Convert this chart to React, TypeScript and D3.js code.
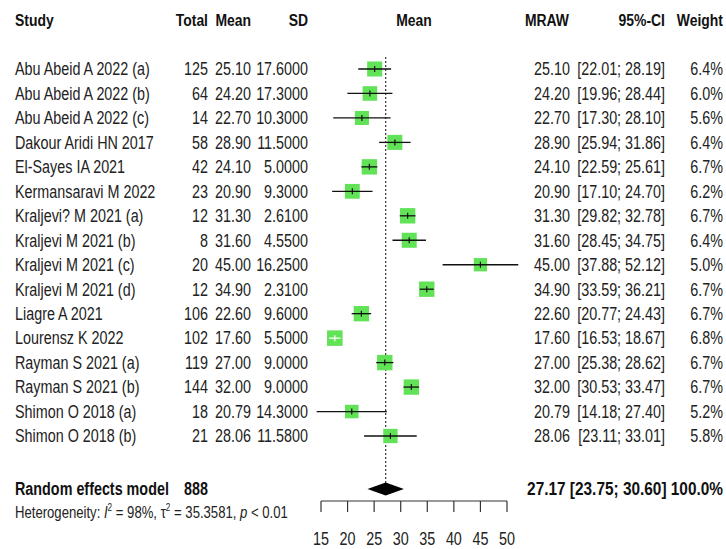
import React from "react";
import * as d3 from "d3";

const studies = [
  "Abu Abeid A 2022 (a)", "Abu Abeid A 2022 (b)", "Abu Abeid A 2022 (c)", "Dakour Aridi HN 2017",
  "El-Sayes IA 2021", "Kermansaravi M 2022", "Kraljevi? M 2021 (a)", "Kraljevi M 2021 (b)",
  "Kraljevi M 2021 (c)", "Kraljevi M 2021 (d)", "Liagre A 2021", "Lourensz K 2022",
  "Rayman S 2021 (a)", "Rayman S 2021 (b)", "Shimon O 2018 (a)", "Shimon O 2018 (b)",
];
const totals = ["125", "64", "14", "58", "42", "23", "12", "8", "20", "12", "106", "102", "119", "144", "18", "21"];
const meansTxt = ["25.10", "24.20", "22.70", "28.90", "24.10", "20.90", "31.30", "31.60", "45.00", "34.90", "22.60", "17.60", "27.00", "32.00", "20.79", "28.06"];
const sds = ["17.6000", "17.3000", "10.3000", "11.5000", "5.0000", "9.3000", "2.6100", "4.5500", "16.2500", "2.3100", "9.6000", "5.5000", "9.0000", "9.0000", "14.3000", "11.5800"];
const mraw = [25.10, 24.20, 22.70, 28.90, 24.10, 20.90, 31.30, 31.60, 45.00, 34.90, 22.60, 17.60, 27.00, 32.00, 20.79, 28.06];
const ciLow = [22.01, 19.96, 17.30, 25.94, 22.59, 17.10, 29.82, 28.45, 37.88, 33.59, 20.77, 16.53, 25.38, 30.53, 14.18, 23.11];
const ciHigh = [28.19, 28.44, 28.10, 31.86, 25.61, 24.70, 32.78, 34.75, 52.12, 36.21, 24.43, 18.67, 28.62, 33.47, 27.40, 33.01];
const weights = [6.4, 6.0, 5.6, 6.4, 6.7, 6.2, 6.7, 6.4, 5.0, 6.7, 6.7, 6.8, 6.7, 6.7, 5.2, 5.8];
const axisTicks = [15, 20, 25, 30, 35, 40, 45, 50];
const pooled = { label: "Random effects model", total: "888", est: 27.17, lo: 23.75, hi: 30.6, weight: "100.0%" };
const hetero = { i2: "98%", tau2: "35.3581", p: "0.01" };

const FONT = "'Liberation Sans', Arial, sans-serif";
const GREEN = "#62e256";
const SX = 0.82;

type TProps = { x: number; y: number; anchor?: string; size?: number; bold?: boolean; sx?: number; children: React.ReactNode; fill?: string };
function T({ x, y, anchor = "start", size = 17.5, bold = false, sx = SX, children, fill = "#222" }: TProps) {
  return (
    <text transform={`translate(${x},${y}) scale(${sx},1)`} textAnchor={anchor} fontSize={size}
      fontWeight={bold ? "bold" : "normal"} fill={fill}>
      {children}
    </text>
  );
}

export default function App() {
  const x = d3.scaleLinear().domain([15, 50]).range([321, 507]);
  const y = d3.scaleLinear().domain([0, 15]).range([69, 436]);
  const sq = d3.scaleSqrt().domain([0, 6.8]).range([0, 15.5]);
  const off = 6.3;
  const yPool = 489;
  const axisY = 501;
  const fmt = (v: number) => v.toFixed(2);
  const diamond = d3.line<[number, number]>()([
    [x(pooled.lo), yPool], [x(pooled.est), yPool - 6.5], [x(pooled.hi), yPool], [x(pooled.est), yPool + 6.5],
  ]) + "Z";

  return (
    <svg width={726} height={549} style={{ position: "absolute", left: 0, top: 0, background: "#fff" }}
      fontFamily={FONT}>
      {/* headers */}
      <T x={15} y={26} size={17} bold fill="#111">Study</T>
      <T x={208} y={26} size={17} anchor="end" bold fill="#111">Total</T>
      <T x={251} y={26} size={17} anchor="end" bold fill="#111">Mean</T>
      <T x={308} y={26} size={17} anchor="end" bold fill="#111">SD</T>
      <T x={x(32.5)} y={26} size={17} anchor="middle" bold fill="#111">Mean</T>
      <T x={569} y={26} size={17} anchor="end" bold fill="#111">MRAW</T>
      <T x={665} y={26} size={17} anchor="end" bold fill="#111">95%-CI</T>
      <T x={723} y={26} size={17} anchor="end" bold fill="#111">Weight</T>
      {/* reference line */}
      <line x1={x(pooled.est)} x2={x(pooled.est)} y1={57} y2={yPool - 6} stroke="#333" strokeWidth={1.2} strokeDasharray="2,2" />
      {/* rows */}
      {studies.map((s, i) => {
        const cy = y(i);
        const side = sq(weights[i]);
        const half = side / 2 - 1;
        const inside = x(ciLow[i]) >= x(mraw[i]) - half && x(ciHigh[i]) <= x(mraw[i]) + half;
        const lineCol = inside ? "#fff" : "#111";
        return (
          <g key={s}>
            <T x={15} y={cy + off}>{s}</T>
            <T x={208} y={cy + off} anchor="end">{totals[i]}</T>
            <T x={251} y={cy + off} anchor="end">{meansTxt[i]}</T>
            <T x={308} y={cy + off} anchor="end">{sds[i]}</T>
            <rect x={x(mraw[i]) - side / 2} y={cy - side / 2} width={side} height={side} fill={GREEN} />
            <line x1={x(ciLow[i])} x2={x(ciHigh[i])} y1={cy} y2={cy} stroke={lineCol} strokeWidth={1.3} />
            <line x1={x(mraw[i])} x2={x(mraw[i])} y1={cy - 3} y2={cy + 3} stroke={lineCol} strokeWidth={1.2} />
            <T x={570} y={cy + off} anchor="end">{fmt(mraw[i])}</T>
            <T x={665} y={cy + off} anchor="end">[{fmt(ciLow[i])}; {fmt(ciHigh[i])}]</T>
            <T x={723} y={cy + off} anchor="end">{weights[i].toFixed(1)}%</T>
          </g>
        );
      })}
      {/* pooled */}
      <T x={15} y={yPool + off} bold fill="#111">{pooled.label}</T>
      <T x={208} y={yPool + off} anchor="end" bold fill="#111">{pooled.total}</T>
      <T x={723} y={yPool + off} anchor="end" bold sx={0.88} fill="#111">
        {fmt(pooled.est)} [{fmt(pooled.lo)}; {fmt(pooled.hi)}] {pooled.weight}
      </T>
      <path d={diamond} fill="#000" />
      <T x={15} y={518} size={16}>
        Heterogeneity: <tspan fontStyle="italic">I</tspan><tspan fontSize={10} dy={-7}>2</tspan>
        <tspan dy={7}> = {hetero.i2}, τ</tspan><tspan fontSize={10} dy={-7}>2</tspan>
        <tspan dy={7}> = {hetero.tau2}, </tspan><tspan fontStyle="italic">p</tspan> &lt; {hetero.p}
      </T>
      {/* axis */}
      <g stroke="#333" strokeWidth={1.2}>
        <line x1={x(15)} x2={x(50)} y1={axisY} y2={axisY} />
        {axisTicks.map((t) => (
          <line key={t} x1={x(t)} x2={x(t)} y1={axisY} y2={axisY + 11} />
        ))}
      </g>
      {axisTicks.map((t) => (
        <T key={t} x={x(t)} y={545} anchor="middle">{t}</T>
      ))}
    </svg>
  );
}
